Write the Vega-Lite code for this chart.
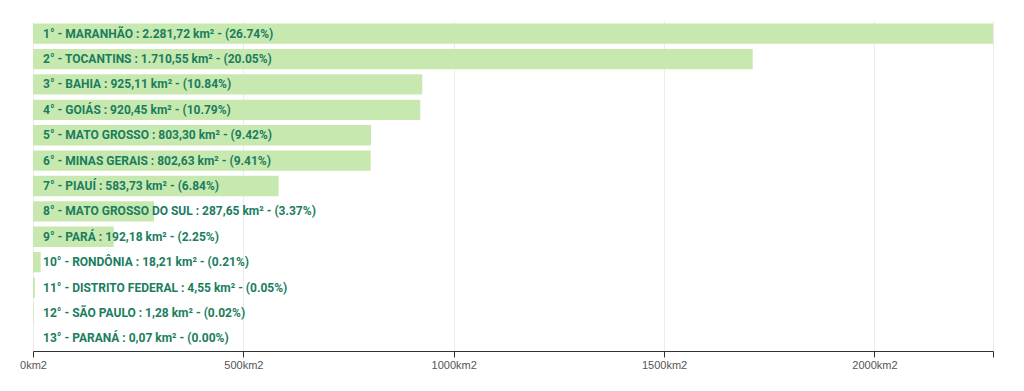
{
  "$schema": "https://vega.github.io/schema/vega-lite/v6.json",
  "width": 960,
  "height": 330,
  "autosize": "none",
  "padding": {"left": 33, "top": 21, "right": 31, "bottom": 40},
  "background": "#ffffff",
  "config": {"view": {"stroke": null}},
  "data": {
    "values": [
      {"rank": 1, "estado": "MARANHÃO", "area": 2281.72, "label": "1° - MARANHÃO : 2.281,72 km² - (26.74%)"},
      {"rank": 2, "estado": "TOCANTINS", "area": 1710.55, "label": "2° - TOCANTINS : 1.710,55 km² - (20.05%)"},
      {"rank": 3, "estado": "BAHIA", "area": 925.11, "label": "3° - BAHIA : 925,11 km² - (10.84%)"},
      {"rank": 4, "estado": "GOIÁS", "area": 920.45, "label": "4° - GOIÁS : 920,45 km² - (10.79%)"},
      {"rank": 5, "estado": "MATO GROSSO", "area": 803.30, "label": "5° - MATO GROSSO : 803,30 km² - (9.42%)"},
      {"rank": 6, "estado": "MINAS GERAIS", "area": 802.63, "label": "6° - MINAS GERAIS : 802,63 km² - (9.41%)"},
      {"rank": 7, "estado": "PIAUÍ", "area": 583.73, "label": "7° - PIAUÍ : 583,73 km² - (6.84%)"},
      {"rank": 8, "estado": "MATO GROSSO DO SUL", "area": 287.65, "label": "8° - MATO GROSSO DO SUL : 287,65 km² - (3.37%)"},
      {"rank": 9, "estado": "PARÁ", "area": 192.18, "label": "9° - PARÁ : 192,18 km² - (2.25%)"},
      {"rank": 10, "estado": "RONDÔNIA", "area": 18.21, "label": "10° - RONDÔNIA : 18,21 km² - (0.21%)"},
      {"rank": 11, "estado": "DISTRITO FEDERAL", "area": 4.55, "label": "11° - DISTRITO FEDERAL : 4,55 km² - (0.05%)"},
      {"rank": 12, "estado": "SÃO PAULO", "area": 1.28, "label": "12° - SÃO PAULO : 1,28 km² - (0.02%)"},
      {"rank": 13, "estado": "PARANÁ", "area": 0.07, "label": "13° - PARANÁ : 0,07 km² - (0.00%)"}
    ]
  },
  "encoding": {
    "y": {
      "field": "rank",
      "type": "ordinal",
      "sort": "ascending",
      "scale": {"paddingInner": 0.2, "paddingOuter": 0.1},
      "axis": null
    }
  },
  "layer": [
    {
      "mark": {"type": "bar", "color": "#c7e9b0"},
      "encoding": {
        "x": {
          "field": "area",
          "type": "quantitative",
          "scale": {"domain": [0, 2281.72], "nice": false},
          "axis": {
            "title": null,
            "values": [0, 500, 1000, 1500, 2000, 2281.72],
            "labelExpr": "datum.value > 2100 ? '' : datum.value + 'km2'",
            "labelFlush": false,
            "labelFont": "Liberation Sans",
            "labelFontSize": 11,
            "labelColor": "#555555",
            "labelPadding": 2,
            "domainColor": "#333333",
            "domainWidth": 1,
            "tickColor": "#333333",
            "tickSize": 6,
            "grid": true,
            "gridColor": "#ebebeb",
            "gridWidth": 1
          }
        }
      }
    },
    {
      "mark": {
        "type": "text",
        "align": "left",
        "baseline": "middle",
        "dx": 10,
        "font": "Roboto",
        "fontWeight": "bold",
        "fontSize": 12,
        "color": "#1a7d5e"
      },
      "encoding": {
        "x": {"datum": 0, "type": "quantitative"},
        "text": {"field": "label"}
      }
    }
  ]
}
